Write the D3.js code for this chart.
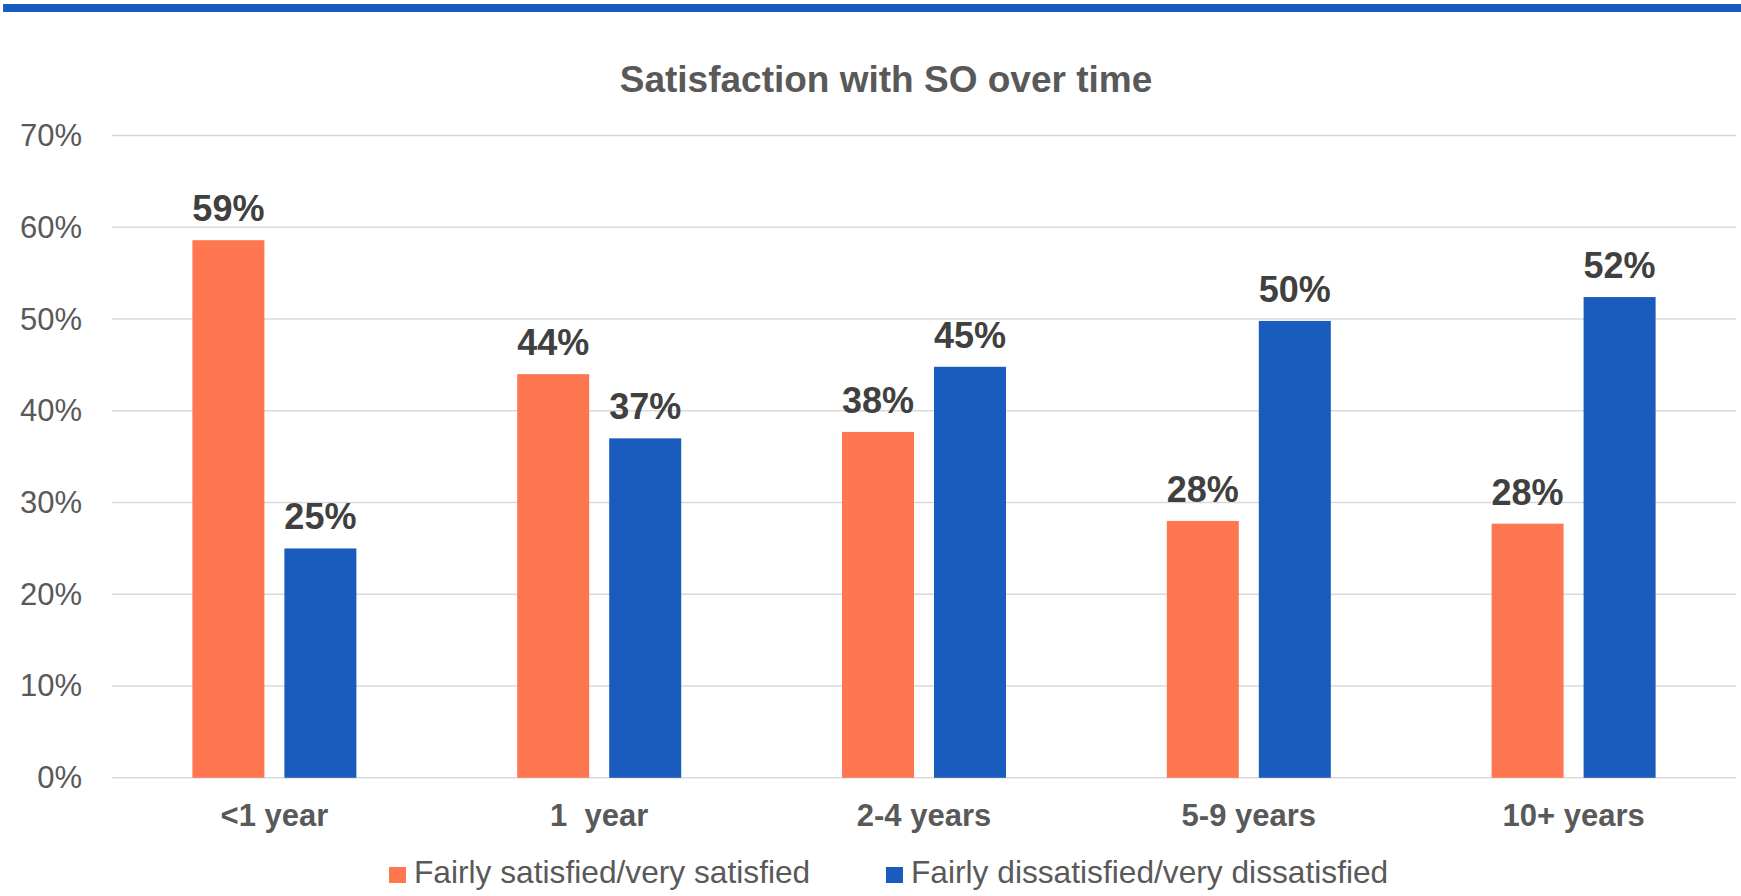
<!DOCTYPE html>
<html>
<head>
<meta charset="utf-8">
<script src="https://cdn.jsdelivr.net/npm/d3@7"></script>
<style>
  body { margin: 0; background: #fff; }
  text { font-family: "Liberation Sans", Arial, sans-serif; }
</style>
</head>
<body>
<svg id="chart"></svg>
<script>
var categories = ["<1 year", "1  year", "2-4 years", "5-9 years", "10+ years"];
var seriesNames = ["Fairly satisfied/very satisfied", "Fairly dissatisfied/very dissatisfied"];
var satisfied = [0.586, 0.440, 0.377, 0.280, 0.277];
var dissatisfied = [0.250, 0.370, 0.448, 0.498, 0.524];
var yTicks = [0, 0.1, 0.2, 0.3, 0.4, 0.5, 0.6, 0.7];
var colors = ["#ff7751", "#1a5bbe"];

var width = 1741, height = 896;

function chart(){
  var svg = d3.select("#chart")
    .attr("width", width)
    .attr("height", height);

  // top band
  svg.append("rect")
    .attr("x", 3).attr("y", 4)
    .attr("width", width - 3).attr("height", 8)
    .attr("fill", "#1a5bbe");

  svg.append("text")
    .attr("x", 886).attr("y", 92)
    .attr("text-anchor", "middle")
    .attr("font-size", 37).attr("font-weight", "bold")
    .attr("fill", "#595959")
    .text("Satisfaction with SO over time");

  var x = d3.scaleBand()
    .domain(categories)
    .range([112, 1736]);
  var inner = d3.scaleBand()
    .domain([0, 1])
    .range([x.bandwidth() / 2 - 82, x.bandwidth() / 2 + 82])
    .paddingInner(0.2174);
  var y = d3.scaleLinear()
    .domain([0, 0.7])
    .range([777.8, 135.6]);

  // grid
  svg.append("g")
    .selectAll("line")
    .data(yTicks)
    .enter()
    .append("line")
    .attr("x1", 112).attr("x2", 1736)
    .attr("y1", function(d) { return y(d); })
    .attr("y2", function(d) { return y(d); })
    .attr("stroke", "#d9d9d9")
    .attr("stroke-width", 1.5);

  var yAxis = svg.append("g")
    .attr("transform", "translate(82,0)")
    .call(d3.axisLeft(y).tickValues(yTicks).tickFormat(d3.format(".0%")).tickSize(0).tickPadding(0));
  yAxis.select(".domain").remove();
  yAxis.selectAll("text")
    .attr("font-size", 31)
    .attr("font-family", "Liberation Sans, Arial, sans-serif")
    .attr("fill", "#595959");

  var data = categories.map(function(c, i) {
    return {cat: c, vals: [satisfied[i], dissatisfied[i]]};
  });

  var groups = svg.selectAll(".grp")
    .data(data)
    .enter()
    .append("g")
    .attr("class", "grp")
    .attr("transform", function(d) { return "translate(" + x(d.cat) + ",0)"; });

  groups.selectAll("rect")
    .data(function(d) { return d.vals; })
    .enter()
    .append("rect")
    .attr("x", function(d, i) { return inner(i); })
    .attr("y", function(d) { return y(d); })
    .attr("width", inner.bandwidth())
    .attr("height", function(d) { return y(0) - y(d); })
    .attr("fill", function(d, i) { return colors[i]; });

  groups.selectAll(".lbl")
    .data(function(d) { return d.vals; })
    .enter()
    .append("text")
    .attr("class", "lbl")
    .attr("x", function(d, i) { return inner(i) + inner.bandwidth() / 2; })
    .attr("y", function(d) { return y(d) - 19; })
    .attr("text-anchor", "middle")
    .attr("font-size", 36).attr("font-weight", "bold")
    .attr("fill", "#404040")
    .text(function(d) { return d3.format(".0%")(d); });

  var xAxis = svg.append("g")
    .attr("transform", "translate(0,826)")
    .call(d3.axisBottom(x).tickSize(0).tickPadding(0));
  xAxis.select(".domain").remove();
  xAxis.selectAll("text")
    .attr("dy", 0)
    .attr("font-size", 31).attr("font-weight", "bold")
    .attr("font-family", "Liberation Sans, Arial, sans-serif")
    .attr("fill", "#595959")
    .style("white-space", "pre");

  // legend
  var legX = [389, 886];
  var leg = svg.selectAll(".leg")
    .data(seriesNames)
    .enter()
    .append("g")
    .attr("class", "leg")
    .attr("transform", function(d, i) { return "translate(" + legX[i] + ",0)"; });
  leg.append("rect")
    .attr("x", 0).attr("y", 867)
    .attr("width", 17).attr("height", 16)
    .attr("fill", function(d, i) { return colors[i]; });
  leg.append("text")
    .attr("x", 25).attr("y", 883)
    .attr("font-size", 31.7)
    .attr("fill", "#595959")
    .text(function(d) { return d; });
}

chart();
</script>
</body>
</html>
